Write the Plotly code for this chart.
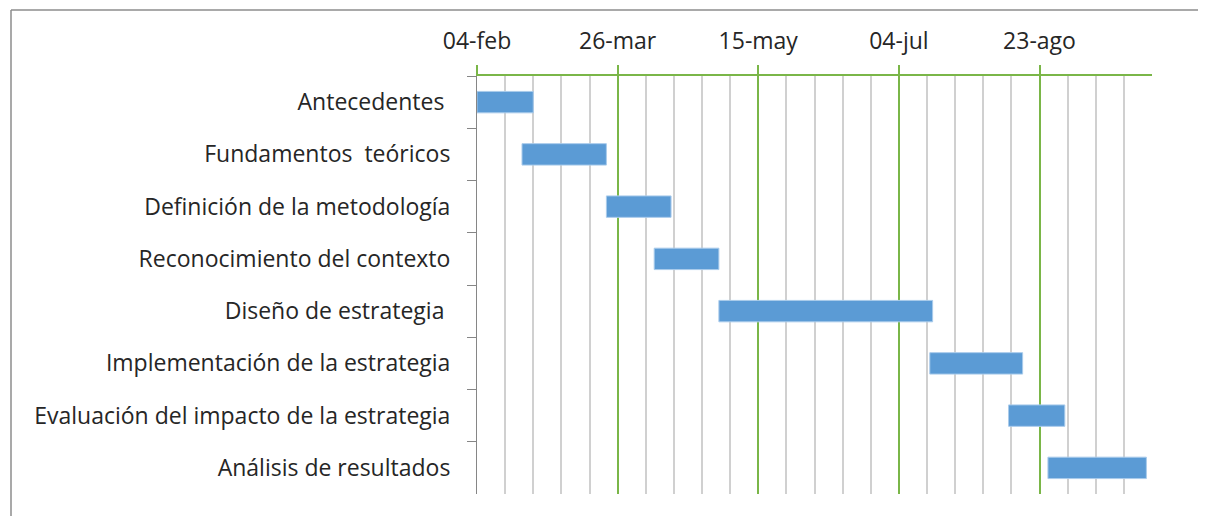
import plotly.graph_objects as go
import pandas as pd

tasks = [
    "Antecedentes ",
    "Fundamentos  teóricos",
    "Definición de la metodología",
    "Reconocimiento del contexto",
    "Diseño de estrategia ",
    "Implementación de la estrategia",
    "Evaluación del impacto de la estrategia",
    "Análisis de resultados",
]
start_dates = ["2019-02-04", "2019-02-20", "2019-03-22", "2019-04-08",
               "2019-05-01", "2019-07-15", "2019-08-12", "2019-08-26"]
end_dates = ["2019-02-24", "2019-03-22", "2019-04-14", "2019-05-01",
             "2019-07-16", "2019-08-17", "2019-09-01", "2019-09-30"]
tick_dates = ["2019-02-04", "2019-03-26", "2019-05-15", "2019-07-04", "2019-08-23"]
tick_labels = ["04-feb", "26-mar", "15-may", "04-jul", "23-ago"]
axis_min, axis_max = "2019-02-04", "2019-10-02"

DAY_MS = 86400000
starts = pd.to_datetime(start_dates)
ends = pd.to_datetime(end_dates)
durations = [(e - s).days * DAY_MS for s, e in zip(starts, ends)]

FONT = "Open Sans"
ML, MR, MT, MB = 469, 62, 68, 30
PW = 1206 - ML - MR
PH = 516 - MT - MB

fig = go.Figure()
fig.add_trace(go.Bar(
    y=tasks,
    x=durations,
    base=start_dates,
    orientation="h",
    width=0.41,
    marker=dict(color="#5B9BD5", line=dict(color="#A9CBEB", width=1)),
    showlegend=False,
    hoverinfo="skip",
))

fx = lambda px: (px - ML) / PW
fy = lambda py: (516 - MB - py) / PH

fig.update_layout(
    width=1206, height=516,
    margin=dict(l=ML, r=MR, t=MT, b=MB),
    paper_bgcolor="white",
    plot_bgcolor="white",
    font=dict(family=FONT, color="#262626", size=20),
    xaxis=dict(
        type="date",
        side="top",
        range=[axis_min, axis_max],
        tickvals=tick_dates,
        ticktext=tick_labels,
        ticks="outside",
        ticklen=9,
        tickcolor="#7AB648",
        tickwidth=1.5,
        ticklabelstandoff=7,
        showgrid=True,
        gridcolor="#7AB648",
        gridwidth=1.5,
        showline=True,
        linecolor="#7AB648",
        linewidth=1.5,
        zeroline=False,
        tickfont=dict(family=FONT, size=23, color="#262626"),
        minor=dict(
            tick0=axis_min,
            dtick=10 * DAY_MS,
            showgrid=True,
            gridcolor="#D0D0D0",
            gridwidth=2,
            ticks="",
        ),
    ),
    yaxis=dict(
        type="category",
        categoryorder="array",
        categoryarray=tasks,
        range=[7.5, -0.5],
        tickson="boundaries",
        ticks="outside",
        ticklen=9,
        tickcolor="#868686",
        showline=True,
        linecolor="#868686",
        linewidth=1,
        showgrid=False,
        zeroline=False,
        ticklabelstandoff=21,
        tickfont=dict(family=FONT, size=23, color="#262626"),
    ),
    shapes=[
        dict(type="line", xref="paper", yref="paper",
             x0=fx(3), x1=fx(1206), y0=fy(2), y1=fy(2),
             line=dict(color="#8C8C8C", width=1.5)),
        dict(type="line", xref="paper", yref="paper",
             x0=fx(3), x1=fx(3), y0=fy(2), y1=fy(516),
             line=dict(color="#8C8C8C", width=1.5)),
    ],
)

fig.write_html("out.html")
